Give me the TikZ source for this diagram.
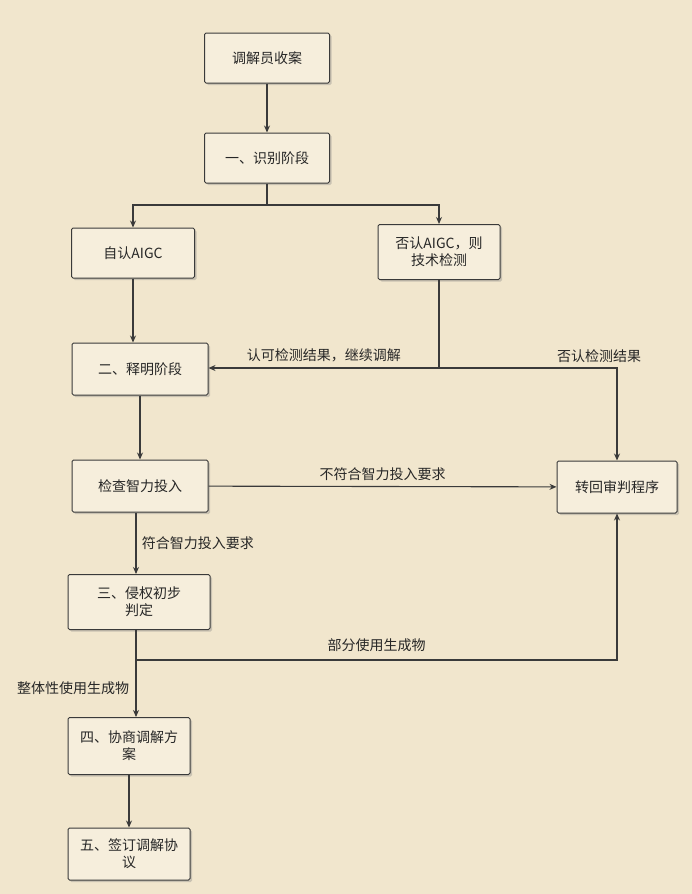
\documentclass[tikz,border=0pt]{standalone}
\usepackage{fontspec}
\setmainfont{Noto Sans CJK SC}
\usetikzlibrary{arrows.meta,shadows}
\definecolor{paper}{HTML}{F1E6CD}
\definecolor{boxfill}{HTML}{F6EEDC}
\definecolor{ink}{HTML}{3A3A3A}
\begin{document}
\begin{tikzpicture}[x=1pt,y=-1pt,
  box/.style={draw=ink,line width=1pt,fill=boxfill,rounded corners=1.5pt,align=center,font=\fontsize{14}{17}\selectfont,text=black!85,drop shadow={shadow xshift=2pt,shadow yshift=-2pt,opacity=.35}},
  arr/.style={draw=ink,line width=1.1pt,-{Stealth[length=7pt,width=6pt]}},
  ln/.style={draw=ink,line width=1.1pt},
  lab/.style={font=\fontsize{14}{17}\selectfont,text=black!85}]
\fill[paper] (0,0) rectangle (692,894);
\useasboundingbox (0,0) rectangle (692,894);
\node[box,minimum width=125,minimum height=50] (b1) at (267,58) {调解员收案};
\node[box,minimum width=125,minimum height=50] (b2) at (267,158) {一、识别阶段};
\node[box,minimum width=123,minimum height=50] (b3) at (133,253) {自认AIGC};
\node[box,minimum width=122,minimum height=55] (b4) at (439,252) {否认AIGC，则\\技术检测};
\node[box,minimum width=136,minimum height=52] (b5) at (140,369) {二、释明阶段};
\node[box,minimum width=136,minimum height=52] (b6) at (140,486) {检查智力投入};
\node[box,minimum width=120,minimum height=52] (b7) at (617,487) {转回审判程序};
\node[box,minimum width=142,minimum height=55] (b8) at (139,602) {三、侵权初步\\判定};
\node[box,minimum width=122,minimum height=57] (b9) at (129,746) {四、协商调解方\\案};
\node[box,minimum width=122,minimum height=52] (b10) at (129,854) {五、签订调解协\\议};
\coordinate (j1) at (267,205);
\coordinate (j2) at (439,368);
\coordinate (j3) at (136,660);
\draw[arr] (b1) -- (b2);
\draw[ln] (b2.south) -- (j1);
\draw[arr] (j1) -| (b3.north);
\draw[arr] (j1) -| (b4.north);
\draw[arr] (b3) -- (b3|-b5.north);
\draw[ln] (b4.south) -- (j2);
\draw[arr] (j2) -- (b5.east|-j2) node[lab,midway,above=2pt] {认可检测结果，继续调解};
\draw[arr] (j2) -| (b7.north) node[lab,pos=0.45,above=2pt] {否认检测结果};
\draw[arr] (b5) -- (b6);
\draw[arr] (b6) -- (b7) node[lab,midway,above=2pt] {不符合智力投入要求};
\draw[arr] (b6.south-|j3) -- (b8.north-|j3) node[lab,midway,right=2pt] {符合智力投入要求};
\draw[ln] (b8.south-|j3) -- (j3);
\draw[arr] (j3) -| (b7.south) node[lab,pos=0.25,above=4pt] {部分使用生成物};
\draw[arr] (j3) -- (b9.north-|j3) node[lab,pos=0.5,left=3pt] {整体性使用生成物};
\draw[arr] (b9) -- (b10);
\end{tikzpicture}
\end{document}
